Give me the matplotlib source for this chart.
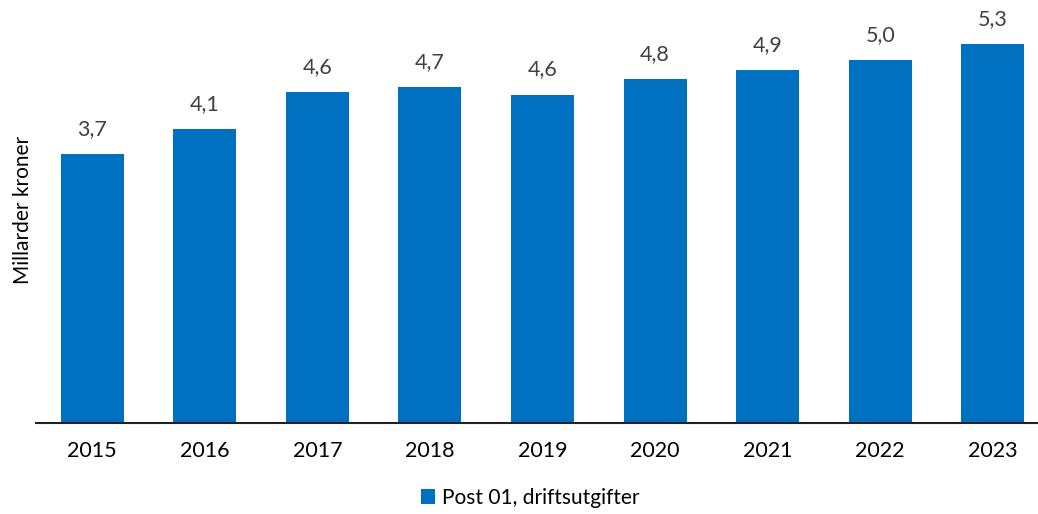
import matplotlib.pyplot as plt
import numpy as np

plt.rcParams['font.family'] = ['Lato', 'DejaVu Sans']

years = ['2015', '2016', '2017', '2018', '2019', '2020', '2021', '2022', '2023']
values = [3.74, 4.08, 4.60, 4.66, 4.56, 4.78, 4.90, 5.04, 5.26]

BLUE = '#0070C0'

fig = plt.figure(figsize=(10.38, 5.14), dpi=100)
# axes extends a bit past the right edge, like the original
ax = fig.add_axes([36 / 1038, 91 / 514, 1013 / 1038, 423 / 514])

x = np.arange(len(years))
bars = ax.bar(x, values, width=0.56, color=BLUE, label='Post 01, driftsutgifter')

for xi, v in zip(x, values):
    ax.text(xi, v + 0.21, f'{v:.1f}'.replace('.', ','), ha='center', va='bottom',
            fontsize=15.5, color='#404040')

ax.set_xlim(-0.5, 8.5)
ax.set_ylim(0, 5.875)
ax.set_xticks(x)
ax.set_xticklabels(years, fontsize=15.5)
ax.tick_params(axis='x', length=0, pad=13)
ax.set_yticks([])
for s in ['top', 'right', 'left']:
    ax.spines[s].set_visible(False)
ax.spines['bottom'].set_linewidth(1.5)
ax.spines['bottom'].set_color('#222222')

fig.text(23 / 1038, 1 - 210 / 514, 'Millarder kroner', rotation=90, ha='center',
         va='center', fontsize=15)

fig.legend(handles=[bars], loc='center', bbox_to_anchor=(530 / 1038, 1 - 498 / 514),
           frameon=False, fontsize=15, handlelength=0.7, handleheight=0.7,
           handletextpad=0.3)

fig.savefig('out.png', dpi=100)
